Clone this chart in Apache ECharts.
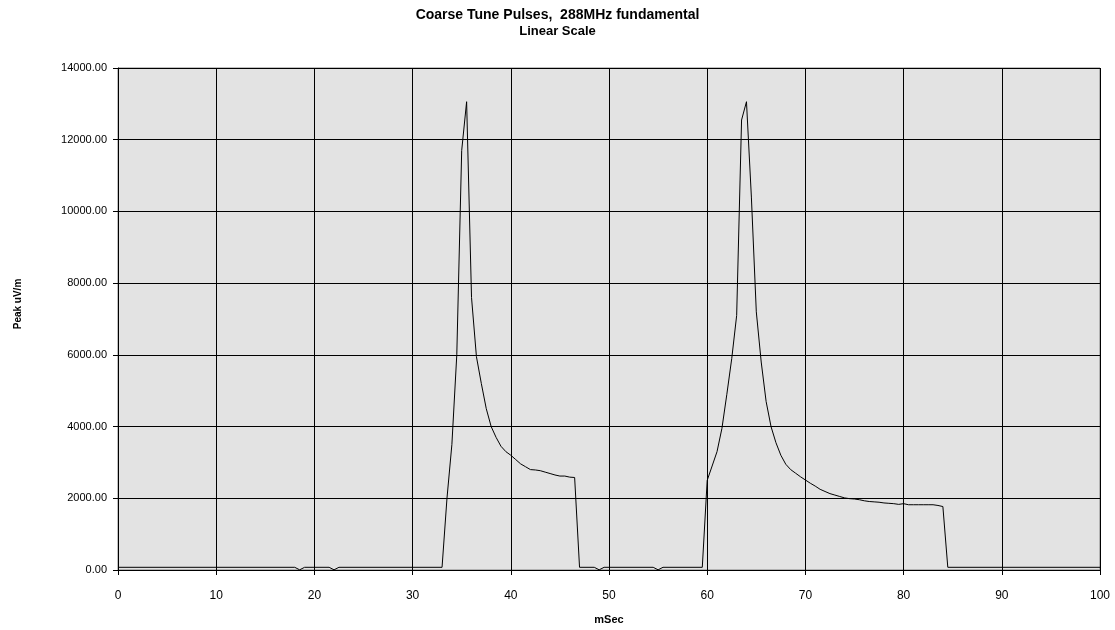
<!DOCTYPE html>
<html>
<head>
<meta charset="utf-8">
<script src="https://cdn.jsdelivr.net/npm/echarts@6/dist/echarts.min.js"></script>
<style>html,body{margin:0;padding:0;background:#fff}#c{width:1115px;height:630px}</style>
</head>
<body>
<div id="c"></div>
<script>
const titleText = 'Coarse Tune Pulses,  288MHz fundamental';
const subText = 'Linear Scale';
const xName = 'mSec';
const yName = 'Peak uV/m';
const timesMs = [0,18,18.5,19,21.5,22,22.5,33,33.5,34,34.5,35,35.5,36,36.5,37,37.5,38,38.5,39,39.5,40,40.5,41,41.5,42,42.5,43,43.5,44,44.5,45,45.5,46,46.5,47,48.5,49,49.5,54.5,55,55.5,59.5,60,60.5,61,61.5,62,62.5,63,63.5,64,64.5,65,65.5,66,66.5,67,67.5,68,68.5,69,69.5,70,70.5,71,71.5,72,72.5,73,73.5,74,74.5,75,75.5,76,76.5,77,77.5,78,78.5,79,79.5,80,80.5,81,81.5,82,82.5,83,83.5,84,84.5,100];
const peakValues = [75,75,5,75,75,5,75,75,2000,3500,6000,11700,13060,7600,5950,5200,4500,4000,3700,3450,3300,3200,3080,2960,2880,2800,2790,2770,2730,2690,2650,2620,2620,2590,2580,75,75,5,75,75,5,75,75,2500,2900,3300,3950,4900,5900,7100,12550,13060,10400,7200,5800,4700,4000,3550,3200,2950,2800,2700,2600,2510,2420,2340,2250,2190,2130,2090,2050,2010,1990,1980,1960,1930,1910,1900,1890,1870,1860,1850,1830,1850,1820,1820,1820,1820,1820,1820,1800,1770,75,75];

const data = timesMs.map((t, i) => [t, peakValues[i]]);
const chart = echarts.init(document.getElementById('c'), null, {renderer: 'canvas'});
const font = 'Arial, "Liberation Sans", sans-serif';
chart.setOption({
  animation: false,
  backgroundColor: '#ffffff',
  title: {
    text: titleText,
    subtext: subText,
    left: 'center',
    top: 3,
    itemGap: 3,
    textStyle: {fontFamily: font, fontWeight: 'bold', fontSize: 14, color: '#000'},
    subtextStyle: {fontFamily: font, fontWeight: 'bold', fontSize: 13, color: '#000'}
  },
  grid: {
    left: 118, right: 15, top: 68, bottom: 58,
    show: true, backgroundColor: '#e3e3e3', borderColor: '#808080', borderWidth: 1
  },
  xAxis: {
    type: 'value', min: 0, max: 100, interval: 10,
    name: xName, nameLocation: 'middle', nameGap: 44,
    nameTextStyle: {fontFamily: font, fontWeight: 'bold', fontSize: 11, color: '#000'},
    axisLine: {show: true, lineStyle: {color: '#000', width: 1}},
    axisTick: {show: true, length: 5, lineStyle: {color: '#000'}},
    axisLabel: {fontFamily: font, fontSize: 12, color: '#000', margin: 20},
    splitLine: {show: true, lineStyle: {color: '#000', width: 1}}
  },
  yAxis: {
    type: 'value', min: 0, max: 14000, interval: 2000,
    name: yName, nameLocation: 'middle', nameGap: 95,
    nameTextStyle: {fontFamily: font, fontWeight: 'bold', fontSize: 10, color: '#000', padding: [0, 0, 0, 30]},
    axisLine: {show: true, lineStyle: {color: '#000', width: 1}},
    axisTick: {show: true, length: 5, lineStyle: {color: '#000'}},
    axisLabel: {fontFamily: font, fontSize: 11, color: '#000', margin: 11, formatter: v => v.toFixed(2)},
    splitLine: {show: true, lineStyle: {color: '#000', width: 1}}
  },
  series: [{
    type: 'line',
    data: data,
    showSymbol: false,
    symbol: 'none',
    lineStyle: {color: '#000', width: 1},
    z: 3
  }]
});
</script>
</body>
</html>
